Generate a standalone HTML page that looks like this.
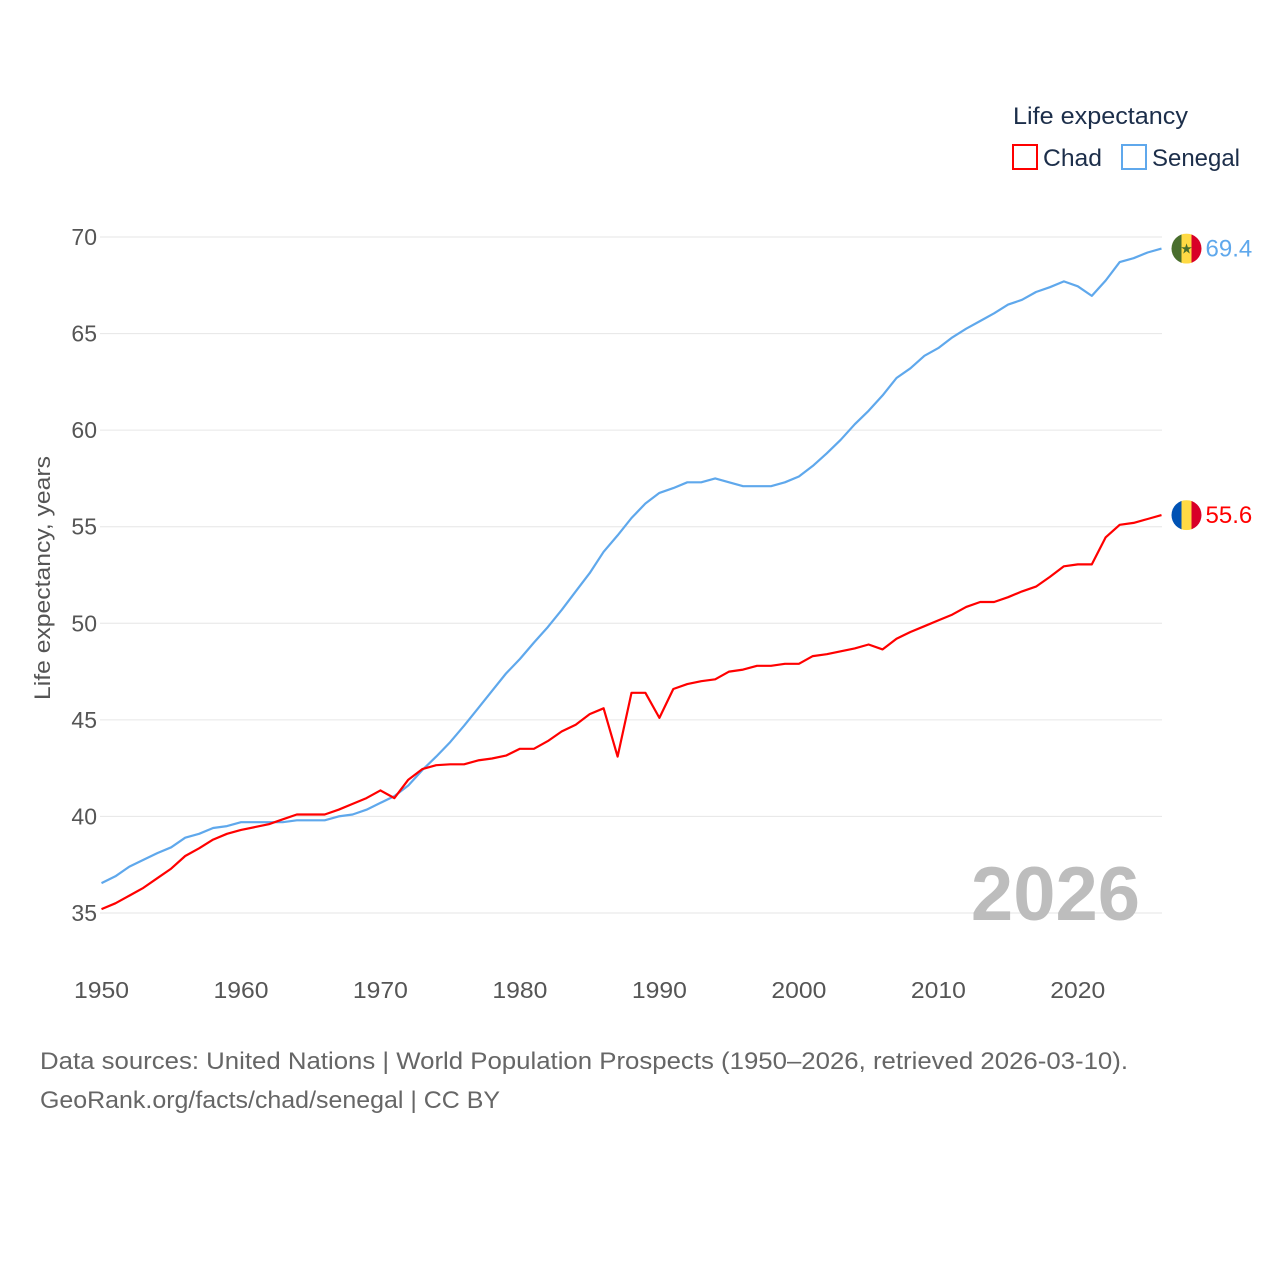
<!DOCTYPE html>
<html><head><meta charset="utf-8">
<style>
html,body{margin:0;padding:0;background:#fff;}
body{width:1280px;height:1280px;overflow:hidden;font-family:"Liberation Sans",sans-serif;}
</style></head>
<body>
<svg id="chart" width="1280" height="1280" viewBox="0 0 1280 1280" xmlns="http://www.w3.org/2000/svg" font-family="Liberation Sans, sans-serif">
  <g id="grid"></g>
  <g id="yticks"></g>
  <g id="xticks"></g>
  <text transform="translate(50,578) rotate(-90)" text-anchor="middle" font-size="22" fill="#555" textLength="244" lengthAdjust="spacingAndGlyphs">Life expectancy, years</text>
  <text x="1140" y="920" text-anchor="end" font-size="76" font-weight="bold" fill="#bdbdbd">2026</text>
  <g id="series"></g>
  <g>
    <text x="1013" y="124" font-size="24" fill="#1c2e4a" textLength="175" lengthAdjust="spacingAndGlyphs">Life expectancy</text>
    <g>
      <rect x="1013" y="145" width="24" height="24" fill="none" stroke="#ff0000" stroke-width="2"/>
      <text x="1043" y="166" font-size="24" fill="#1c2e4a" textLength="59" lengthAdjust="spacingAndGlyphs">Chad</text>
    </g>
    <g>
      <rect x="1122" y="145" width="24" height="24" fill="none" stroke="#5fa8ec" stroke-width="2"/>
      <text x="1152" y="166" font-size="24" fill="#1c2e4a" textLength="88" lengthAdjust="spacingAndGlyphs">Senegal</text>
    </g>
  </g>
  <text x="40" y="1069" font-size="24" fill="#666" textLength="1088" lengthAdjust="spacingAndGlyphs">Data sources: United Nations | World Population Prospects (1950–2026, retrieved 2026-03-10).</text>
  <text x="40" y="1108" font-size="24" fill="#666" textLength="460" lengthAdjust="spacingAndGlyphs">GeoRank.org/facts/chad/senegal | CC BY</text>
</svg>
<script>
const years = [];
for (let y = 1950; y <= 2026; y++) years.push(y);
const chadValues = [35.2,35.5,35.9,36.3,36.8,37.3,37.95,38.35,38.8,39.1,39.3,39.45,39.6,39.85,40.1,40.1,40.1,40.35,40.65,40.95,41.35,40.95,41.9,42.45,42.65,42.7,42.7,42.9,43.0,43.15,43.5,43.5,43.9,44.4,44.75,45.3,45.6,43.1,46.4,46.4,45.1,46.6,46.85,47.0,47.1,47.5,47.6,47.8,47.8,47.9,47.9,48.3,48.4,48.55,48.7,48.9,48.65,49.2,49.55,49.85,50.15,50.45,50.85,51.1,51.1,51.35,51.65,51.9,52.4,52.95,53.05,53.05,54.45,55.1,55.2,55.4,55.6];
const senegalValues = [36.55,36.9,37.4,37.75,38.1,38.4,38.9,39.1,39.4,39.5,39.7,39.7,39.7,39.7,39.8,39.8,39.8,40.0,40.1,40.35,40.7,41.05,41.6,42.4,43.1,43.85,44.7,45.6,46.5,47.4,48.15,49.0,49.8,50.7,51.65,52.6,53.7,54.55,55.45,56.2,56.75,57.0,57.3,57.3,57.5,57.3,57.1,57.1,57.1,57.3,57.6,58.15,58.8,59.5,60.3,61.0,61.8,62.7,63.2,63.85,64.25,64.8,65.25,65.65,66.05,66.5,66.75,67.15,67.4,67.7,67.45,66.95,67.75,68.7,68.9,69.2,69.4];
const yTickValues = [35,40,45,50,55,60,65,70];
const xTickValues = [1950,1960,1970,1980,1990,2000,2010,2020];

const NS = "http://www.w3.org/2000/svg";
const X0 = 101.5, X1 = 1161.5, Y35 = 913, Y70 = 237;
function xScale(yr){ return X0 + (yr - 1950) * (X1 - X0) / 76; }
function yScale(v){ return Y35 + (v - 35) * (Y70 - Y35) / 35; }
function mk(tag, attrs, parent){ const e=document.createElementNS(NS,tag); for(const k in attrs) e.setAttribute(k,attrs[k]); parent.appendChild(e); return e; }

const grid = document.getElementById('grid');
const yt = document.getElementById('yticks');
yTickValues.forEach(v => {
  const l = mk('line',{x1:100,x2:1162,y1:yScale(v),y2:yScale(v),stroke:'#e6e6e6','stroke-width':1},grid);
  
  
  const t = mk('text',{x:97,y:yScale(v)+8,'text-anchor':'end','font-size':23,fill:'#555'},yt);
  t.textContent = v;
  
  
});
const xt = document.getElementById('xticks');
xTickValues.forEach(v => {
  const t = mk('text',{x:xScale(v),y:998,'text-anchor':'middle','font-size':23,fill:'#555',textLength:55,lengthAdjust:'spacingAndGlyphs'},xt);
  t.textContent = v;
  
  
});

const series = document.getElementById('series');
function drawLine(vals, color, name){
  const d = vals.map((v,i)=>(i?'L':'M')+xScale(years[i]).toFixed(1)+','+yScale(v).toFixed(1)).join('');
  const p = mk('path',{d:d,fill:'none',stroke:color,'stroke-width':2.2,'stroke-linejoin':'round'},series);
  
  
}
drawLine(senegalValues,'#5fa8ec','senegal');
drawLine(chadValues,'#ff0000','chad');

function flag(vals, colors, name, labelColor, star){
  const v = vals[vals.length-1];
  const cx = xScale(2026)+25, cy = yScale(v);
  const g = mk('g',{},series);
  
  
  const id = 'clip-' + name;
  const cp = mk('clipPath',{id:id},g);
  mk('circle',{cx:cx,cy:cy,r:15},cp);
  const gg = mk('g',{'clip-path':'url(#'+id+')'},g);
  colors.forEach((c,i)=>mk('rect',{x:cx-15+i*10,y:cy-15,width:10.5,height:30,fill:c},gg));
  if(star){ const s=mk('text',{x:cx,y:cy+5,'text-anchor':'middle','font-size':14,fill:'#496e2d'},g); s.textContent='★'; }
  const t = mk('text',{x:cx+19,y:cy+8,'font-size':24,fill:labelColor},series);
  t.textContent = v.toFixed(1);
  
  
}
flag(senegalValues,['#496e2d','#ffda44','#d80027'],'senegal','#5fa8ec',true);
flag(chadValues,['#0052b4','#ffda44','#d80027'],'chad','#ff0000',false);
</script>
</body></html>
